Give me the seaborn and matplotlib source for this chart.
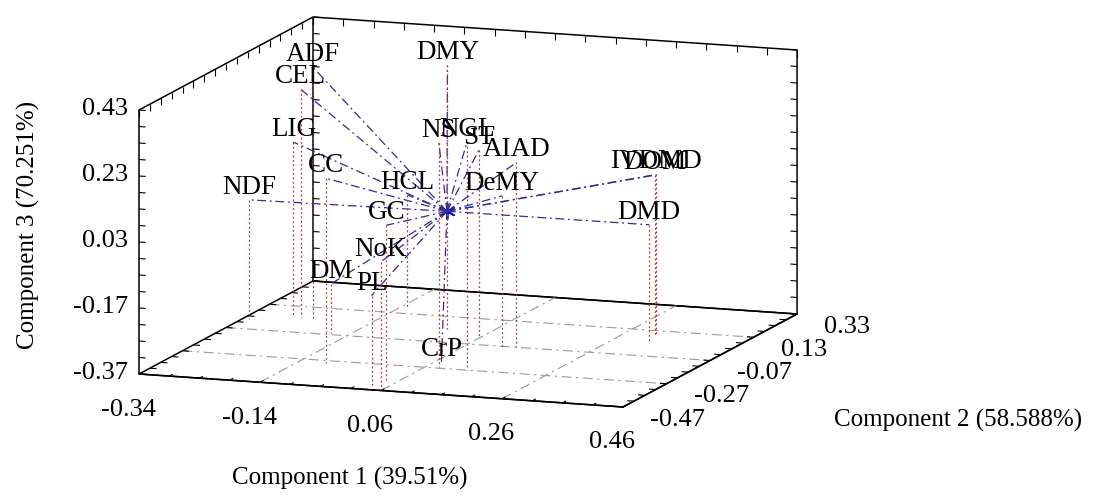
import numpy as np
import pandas as pd
import seaborn as sns
import matplotlib
matplotlib.use("Agg")
import matplotlib.pyplot as plt
from mpl_toolkits.mplot3d import proj3d
from mpl_toolkits.mplot3d.art3d import Line3DCollection

# ---------------- data (loadings) ----------------
variables = ["NDF", "ADF", "CEL", "LIG", "CC", "HCL", "GC", "NoK", "DM", "PL",
             "CrP", "DMY", "NS", "NGL", "ST", "AIAD", "DeMY", "IVDMD", "DOM", "DMD"]
comp1 = [-0.33, -0.24, -0.26, -0.27, -0.095, -0.13, 0.04, 0.06, -0.17, 0.03,
         0.07, -0.01, 0.08, 0.13, 0.06, 0.14, 0.12, 0.31, 0.31, 0.32]
comp2 = [0.01, 0.05, 0.05, 0.045, -0.29, 0.18, -0.39, -0.47, -0.06, -0.43,
         -0.22, 0.03, -0.26, -0.27, -0.02, -0.07, -0.08, 0.10, 0.095, 0.04]
comp3 = [-0.01, 0.39, 0.32, 0.16, 0.19, -0.03, 0.10, 0.02, -0.22, -0.10,
         -0.37, 0.43, 0.31, 0.32, 0.20, 0.19, 0.09, 0.115, 0.115, -0.015]

x_ticks = [-0.34, -0.14, 0.06, 0.26, 0.46]
y_ticks = [-0.47, -0.27, -0.07, 0.13, 0.33]
z_ticks = [-0.37, -0.17, 0.03, 0.23, 0.43]
axis_titles = ["Component 1 (39.51%)", "Component 2 (58.588%)", "Component 3 (70.251%)"]

df = pd.DataFrame({"var": variables, "c1": comp1, "c2": comp2, "c3": comp3})

# ---------------- style ----------------
sns.set_theme(style="white")
plt.rcParams["font.family"] = ["Liberation Serif", "DejaVu Serif"]
plt.rcParams["text.color"] = "black"
plt.rcParams["axes.labelcolor"] = "black"
plt.rcParams["xtick.color"] = "black"
plt.rcParams["ytick.color"] = "black"
plt.rcParams["axes3d.automargin"] = False

BLUE = "#2e2e8f"
RED = "#b03a3a"
GRID = "#9a9a9a"
TICK_FS = 19
LABEL_FS = 19.5

fig = plt.figure(figsize=(11.06, 4.98), dpi=100)
fig.patch.set_facecolor("white")
W, H = fig.get_size_inches() * fig.dpi

size = 760.0
cx, cy = 468.0, H - 212.0
ax = fig.add_axes([(cx - size / 2) / W, (cy - size / 2) / H, size / W, size / H],
                  projection="3d", proj_type="ortho")
ax.set_facecolor((1, 1, 1, 0))
ax.view_init(elev=11, azim=-70.35)
aspect = (513.9, 517.4, 268.9)
ax.set_box_aspect(aspect, zoom=1.0)

xmin, xmax = x_ticks[0], x_ticks[-1]
ymin, ymax = y_ticks[0], y_ticks[-1]
zmin, zmax = z_ticks[0], z_ticks[-1]
ax.set_xlim(xmin, xmax)
ax.set_ylim(ymin, ymax)
ax.set_zlim(zmin, zmax)

# panes: no fill, black outline (gives the open box)
for a in (ax.xaxis, ax.yaxis, ax.zaxis):
    a.pane.fill = False
    a.pane.set_edgecolor("black")
    a.pane.set_alpha(1.0)
    a.pane.set_linewidth(1.1)
    a.line.set_color("black")
    a.line.set_linewidth(1.1)
    a._axinfo["tick"]["inward_factor"] = 0.0
    a._axinfo["tick"]["outward_factor"] = 0.0
ax.grid(False)
ax.zaxis.set_ticks_position("lower")

# floor grid (dashed gray)
for xt in x_ticks[1:-1]:
    ax.plot([xt, xt], [ymin, ymax], [zmin, zmin], color=GRID, lw=0.8,
            ls=(0, (9, 4, 2, 4)))
for yt in y_ticks[1:-1]:
    ax.plot([xmin, xmax], [yt, yt], [zmin, zmin], color=GRID, lw=0.8,
            ls=(0, (9, 4, 2, 4)))

# small inward tick marks on the box edges (every 0.05)
step = 0.05
xs = np.arange(xmin, xmax + 1e-9, step)
ys = np.arange(ymin, ymax + 1e-9, step)
zs = np.arange(zmin, zmax + 1e-9, step)
dxt, dyt, dzt = 0.011, 0.016, 0.02
segs = []
for z in zs:
    segs.append([(xmin, ymin, z), (xmin + dxt, ymin, z)])
    segs.append([(xmin, ymax, z), (xmin + dxt, ymax, z)])
    segs.append([(xmax, ymax, z), (xmax - dxt, ymax, z)])
for x in xs:
    segs.append([(x, ymin, zmin), (x, ymin + dyt, zmin)])
    segs.append([(x, ymax, zmax), (x, ymax, zmax - dzt)])
for y in ys:
    segs.append([(xmin, y, zmax), (xmin, y, zmax - dzt)])
    segs.append([(xmin, y, zmin), (xmin + dxt, y, zmin)])
    segs.append([(xmax, y, zmin), (xmax - dxt, y, zmin)])
ax.add_collection3d(Line3DCollection(segs, colors="black", linewidths=0.8))

# vectors and drop lines
for _, r in df.iterrows():
    ax.plot([0, r.c1], [0, r.c2], [0, r.c3], color=BLUE, lw=0.9,
            ls=(0, (7, 3, 1.5, 3)))
    ax.plot([r.c1, r.c1], [r.c2, r.c2], [r.c3, zmin], color=RED, lw=0.9,
            ls=(0, (1.5, 2)))

ax.scatter([0], [0], [0], marker=(6, 2, 0), s=110, color="#1010e0",
           linewidths=1.3, depthshade=False)

ax.set_xticks(x_ticks)
ax.set_yticks(y_ticks)
ax.set_zticks(z_ticks)
ax.set_xticklabels([])
ax.set_yticklabels([])
ax.set_zticklabels([])

# axis titles (horizontal, as in the reference)
fig.text(350 / W, 1 - 478 / H, axis_titles[0], ha="center", va="center", fontsize=18)
fig.text(958 / W, 1 - 420 / H, axis_titles[1], ha="center", va="center", fontsize=18)
fig.text(28 / W, 1 - 225 / H, axis_titles[2], ha="center", va="center",
         rotation=90, fontsize=18)

# ---------------- calibrate scale / position of the box ----------------
def to_px(x, y, z):
    X, Y, _ = proj3d.proj_transform(x, y, z, ax.get_proj())
    return ax.transData.transform((X, Y))

fig.canvas.draw()
p0 = to_px(xmin, ymin, zmin)
p1 = to_px(xmin, ymin, zmax)
z_px = abs(p1[1] - p0[1])
ax.set_box_aspect(aspect, zoom=264.0 / z_px)
fig.canvas.draw()
p0 = to_px(xmin, ymin, zmin)
dx = 139.0 - p0[0]
dy = (H - 374.0) - p0[1]
pos = ax.get_position(original=True)
ax.set_position([pos.x0 + dx / W, pos.y0 + dy / H, pos.width, pos.height])
fig.canvas.draw()

# ---------------- texts placed through the 3-D projection ----------------
M = ax.get_proj()


def put(x, y, z, s, **kw):
    X, Y, _ = proj3d.proj_transform(x, y, z, M)
    ax.text2D(X, Y, s, transform=ax.transData, **kw)


for _, r in df.iterrows():
    put(r.c1, r.c2, r.c3, r["var"], ha="center", va="bottom",
        fontsize=LABEL_FS, color="black")

for xt in x_ticks:
    put(xt, ymin - 0.05, zmin - 0.09, f"{xt:.2f}", ha="center", va="center",
        fontsize=TICK_FS)
for yt in y_ticks:
    put(xmax + 0.045, yt, zmin - 0.033, f"{yt:.2f}", ha="left", va="center",
        fontsize=TICK_FS)
for zt in z_ticks:
    put(xmin - 0.018, ymin, zt, f"{zt:.2f}", ha="right", va="center",
        fontsize=TICK_FS)

fig.savefig("out.png", dpi=100, facecolor="white")
